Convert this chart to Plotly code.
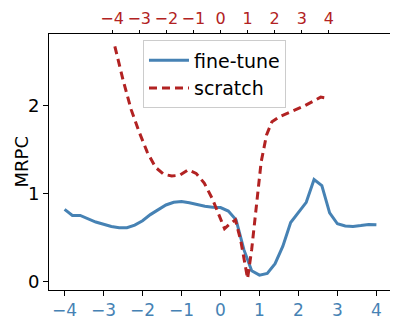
import plotly.graph_objects as go

# fine-tune series (bottom x axis)
ft_x = [-4.0, -3.8, -3.6, -3.4, -3.2, -3.0, -2.8, -2.6, -2.4, -2.2, -2.0, -1.8, -1.6, -1.4,
        -1.2, -1.0, -0.8, -0.6, -0.4, -0.2, 0.0, 0.2, 0.4, 0.6, 0.8, 1.0, 1.2, 1.4, 1.6, 1.8,
        2.0, 2.2, 2.4, 2.6, 2.8, 3.0, 3.2, 3.4, 3.6, 3.8, 4.0]
ft_y = [0.82, 0.75, 0.75, 0.71, 0.675, 0.65, 0.625, 0.61, 0.61, 0.64, 0.69, 0.76, 0.82, 0.87,
        0.90, 0.91, 0.895, 0.875, 0.855, 0.845, 0.84, 0.80, 0.70, 0.36, 0.12, 0.07, 0.09, 0.20,
        0.40, 0.67, 0.78, 0.90, 1.16, 1.09, 0.78, 0.655, 0.63, 0.625, 0.635, 0.648, 0.645]

# scratch series (top x axis)
sc_x = [-3.9, -3.6, -3.3, -3.0, -2.7, -2.4, -2.1, -1.8, -1.5, -1.2, -0.9, -0.6, -0.3, 0.0,
        0.15, 0.35, 0.55, 0.75, 0.9, 1.0, 1.15, 1.3, 1.5, 1.7, 1.9, 2.2, 2.5, 2.8, 3.1, 3.4,
        3.7, 3.9]
sc_y = [2.68, 2.30, 1.96, 1.70, 1.47, 1.30, 1.22, 1.20, 1.21, 1.27, 1.23, 1.12, 0.94, 0.72,
        0.60, 0.655, 0.70, 0.46, 0.22, 0.03, 0.36, 0.80, 1.36, 1.67, 1.82, 1.88, 1.92, 1.96,
        2.00, 2.05, 2.10, 2.09]

tick_vals = [-4, -3, -2, -1, 0, 1, 2, 3, 4]
y_ticks = [0, 1, 2]

BLUE = "#4682b4"
RED = "#b22222"
FONT = "DejaVu Sans"

fig = go.Figure()
fig.add_trace(go.Scatter(x=ft_x, y=ft_y, mode="lines", name="fine-tune",
                         line=dict(color=BLUE, width=3), xaxis="x", yaxis="y"))
fig.add_trace(go.Scatter(x=sc_x, y=sc_y, mode="lines", name="scratch",
                         line=dict(color=RED, width=3, dash="8px,5px"), xaxis="x2", yaxis="y"))

# the page body has an 8px margin, so the figure is 8px smaller than the window
fig.update_layout(
    width=390, height=312,
    margin=dict(l=41, r=6, t=26, b=30),
    paper_bgcolor="white", plot_bgcolor="white",
    font=dict(family=FONT, size=17, color="black"),
    showlegend=True,
    legend=dict(x=0.274, y=0.975, xanchor="left", yanchor="top",
                bgcolor="rgba(255,255,255,0.8)", bordercolor="#cccccc", borderwidth=1,
                font=dict(size=19), itemwidth=40, tracegroupgap=0),
    xaxis=dict(range=[-4.4, 4.4], tickvals=tick_vals, showgrid=False, zeroline=False,
               showline=True, linecolor="black", linewidth=1, ticks="outside", ticklen=5,
               tickcolor="black", tickangle=0, automargin=False,
               tickfont=dict(color=BLUE, size=17)),
    xaxis2=dict(range=[-6.33, 6.33], tickvals=tick_vals, overlaying="x", side="top",
                showgrid=False, zeroline=False, showline=True, linecolor="black", linewidth=1,
                ticks="outside", ticklen=3, tickcolor="black", tickangle=0, automargin=False,
                tickfont=dict(color=RED, size=16)),
    yaxis=dict(range=[-0.1, 2.82], tickvals=y_ticks, showgrid=False, zeroline=False,
               showline=True, mirror=True, linecolor="black", linewidth=1,
               ticks="outside", ticklen=5, tickcolor="black", automargin=False,
               tickfont=dict(size=18)),
    annotations=[dict(text="MRPC", textangle=-90, xref="paper", yref="paper",
                      x=-0.1195, y=0.5, xanchor="left", yanchor="middle",
                      showarrow=False, font=dict(size=18))],
)

fig.write_html("out.html")
